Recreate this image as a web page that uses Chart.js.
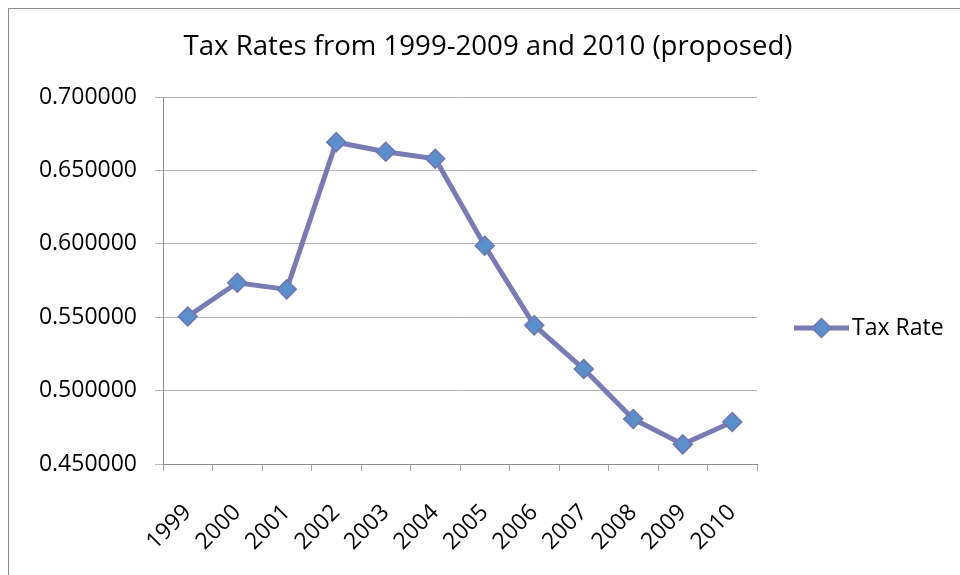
<!DOCTYPE html>
<html>
<head>
<meta charset="utf-8">
<title>Tax Rates</title>
<script src="https://cdn.jsdelivr.net/npm/chart.js@4.4.0/dist/chart.umd.min.js"></script>
<style>
  html, body { margin: 0; padding: 0; background: #fff; }
  #wrap { width: 960px; height: 575px; position: relative; }
</style>
</head>
<body>
<div id="wrap"><canvas id="taxChart"></canvas></div>
<script>
// chart data
const years = ['1999', '2000', '2001', '2002', '2003', '2004', '2005', '2006', '2007', '2008', '2009', '2010'];
const taxRates = [0.5505, 0.5735, 0.5690, 0.6693, 0.6628, 0.6580, 0.5987, 0.5445, 0.5147, 0.4807, 0.4634, 0.4786];
const yTicks = [0.45, 0.50, 0.55, 0.60, 0.65, 0.70];
const seriesName = 'Tax Rate';
const chartTitle = 'Tax Rates from 1999-2009 and 2010 (proposed)';

const lineColor = '#787CB3';
const markerFill = '#5A8FCC';
const markerEdge = '#7275AD';
const fontFamily = '"Open Sans", "Noto Sans", sans-serif';

// outer frame, like the Excel chart border
const framePlugin = {
    id: 'frame',
    beforeDraw(chart) {
        const ctx = chart.ctx;
        ctx.save();
        ctx.strokeStyle = '#8E8E8E';
        ctx.lineWidth = 1;
        ctx.strokeRect(8.5, 8.5, chart.width, chart.height);
        ctx.restore();
    }
};

// legend drawn to the right, centred on the whole chart height
const sideLegend = {
    id: 'sideLegend',
    afterDraw(chart) {
        const ctx = chart.ctx;
        const ds = chart.data.datasets[0];
        const x0 = 794, x1 = 849, y = 328;
        ctx.save();
        ctx.strokeStyle = ds.borderColor;
        ctx.lineWidth = ds.borderWidth;
        ctx.beginPath();
        ctx.moveTo(x0, y);
        ctx.lineTo(x1, y);
        ctx.stroke();
        ctx.fillStyle = ds.pointBackgroundColor;
        ctx.strokeStyle = ds.pointBorderColor;
        ctx.lineWidth = ds.pointBorderWidth;
        Chart.helpers.drawPoint(ctx, { pointStyle: 'rectRot', radius: ds.pointRadius, borderWidth: ds.pointBorderWidth }, (x0 + x1) / 2, y);
        ctx.fillStyle = '#000';
        ctx.font = '23px ' + fontFamily;
        ctx.textBaseline = 'middle';
        ctx.textAlign = 'left';
        ctx.fillText(ds.label, x1 + 3, y);
        ctx.restore();
    }
};

document.addEventListener('DOMContentLoaded', function() {
    const ctx = document.getElementById('taxChart').getContext('2d');
    new Chart(ctx, {
        type: 'line',
        data: {
            labels: years,
            datasets: [{
                label: seriesName,
                data: taxRates,
                borderColor: lineColor,
                borderWidth: 5,
                pointStyle: 'rectRot',
                pointRadius: 9.5,
                pointBackgroundColor: markerFill,
                pointBorderColor: markerEdge,
                pointBorderWidth: 1.5,
                tension: 0
            }]
        },
        options: {
            responsive: true,
            maintainAspectRatio: false,
            animation: false,
            layout: {
                padding: { left: 16, right: 0, top: 0, bottom: 0 }
            },
            plugins: {
                legend: { display: false },
                tooltip: { enabled: false },
                title: {
                    display: true,
                    text: chartTitle,
                    color: '#000',
                    font: { family: fontFamily, size: 27.6, weight: 'normal' },
                    padding: { top: 31, bottom: 33 }
                }
            },
            scales: {
                x: {
                    offset: true,
                    afterFit(scale) { scale.height = 111; },
                    grid: {
                        offset: true,
                        drawOnChartArea: false,
                        drawTicks: true,
                        tickLength: 7,
                        color: '#A8A8A8'
                    },
                    border: { color: '#8C8C8C', width: 1 },
                    ticks: {
                        color: '#000',
                        font: { family: fontFamily, size: 23 },
                        minRotation: 45,
                        maxRotation: 45,
                        padding: 28
                    }
                },
                y: {
                    min: yTicks[0],
                    max: yTicks[yTicks.length - 1],
                    afterFit(scale) { scale.width = 147; },
                    afterBuildTicks(scale) {
                        scale.ticks = yTicks.map(v => ({ value: v }));
                    },
                    grid: {
                        color: '#B5B5B5',
                        tickLength: 8,
                        lineWidth: 1
                    },
                    border: { color: '#8C8C8C', width: 1 },
                    ticks: {
                        color: '#000',
                        font: { family: fontFamily, size: 23 },
                        padding: 18,
                        callback: v => Number(v).toFixed(6)
                    }
                },
                // empty right-hand axis that keeps room for the legend
                legendSpace: {
                    type: 'linear',
                    position: 'right',
                    afterFit(scale) { scale.width = 203; },
                    grid: { display: false },
                    border: { display: false },
                    ticks: { display: false }
                }
            }
        },
        plugins: [framePlugin, sideLegend]
    });
});
</script>
</body>
</html>
